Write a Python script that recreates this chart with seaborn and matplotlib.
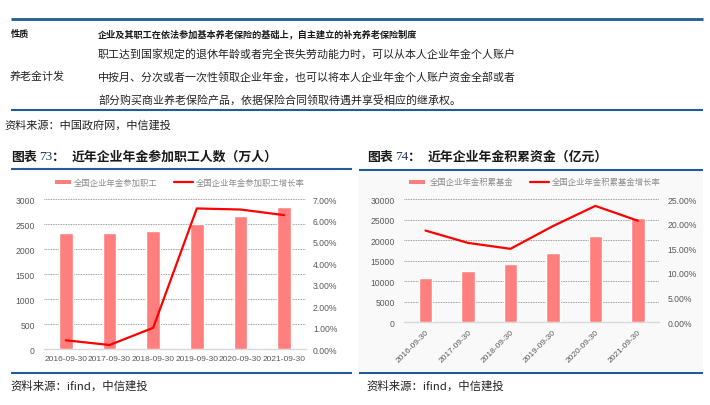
import matplotlib
matplotlib.use("Agg")
import matplotlib.pyplot as plt
import seaborn as sns
import numpy as np
import pandas as pd
from matplotlib.lines import Line2D
from matplotlib.patches import Rectangle
from matplotlib.ticker import FuncFormatter, MultipleLocator

# ---------------- data ----------------
dates = ["2016-09-30", "2017-09-30", "2018-09-30", "2019-09-30", "2020-09-30", "2021-09-30"]
workers = [2320, 2330, 2360, 2500, 2670, 2840]           # 万人
workers_growth = [0.42, 0.20, 1.00, 6.56, 6.51, 6.25]     # %
funds = [10750, 12400, 14200, 16900, 21000, 25400]        # 亿元
funds_growth = [18.6, 16.1, 14.9, 19.5, 23.6, 20.6]       # %

workers_bar_label = "全国企业年金参加职工"
workers_line_label = "全国企业年金参加职工增长率"
funds_bar_label = "全国企业年金积累基金"
funds_line_label = "全国企业年金积累基金增长率"

title73 = "近年企业年金参加职工人数（万人）"
title74 = "近年企业年金积累资金（亿元）"
row1_head = "性质"
row1_text = "企业及其职工在依法参加基本养老保险的基础上，自主建立的补充养老保险制度"
row2_head = "养老金计发"
row2_lines = ["职工达到国家规定的退休年龄或者完全丧失劳动能力时，可以从本人企业年金个人账户",
              "中按月、分次或者一次性领取企业年金，也可以将本人企业年金个人账户资金全部或者",
              "部分购买商业养老保险产品，依据保险合同领取待遇并享受相应的继承权。"]
source_top = "资料来源：中国政府网，中信建投"
source_chart = "资料来源：ifind，中信建投"

# ---------------- style ----------------
sns.set_theme(style="white")
plt.rcParams["font.family"] = ["Liberation Sans", "Noto Sans CJK SC", "DejaVu Sans"]
CJK = ["Noto Sans CJK SC", "DejaVu Sans"]

W, H = 710, 406
BAR = "#FF7F7F"
LINE = "#FF0000"
BLUE = "#1F5C99"
TICK = "#595959"
LEG = "#8C8C8C"

fig = plt.figure(figsize=(W / 100, H / 100), dpi=100)
fig.patch.set_facecolor("white")


def fx(x):
    return x / W


def fy(y):
    return 1 - y / H


def hline(x0, x1, y, lw=1.5, color=BLUE):
    fig.add_artist(Line2D([fx(x0), fx(x1)], [fy(y), fy(y)], transform=fig.transFigure,
                          color=color, lw=lw, solid_capstyle="butt"))


def txt(x, y, s, size, **kw):
    kw.setdefault("family", CJK)
    kw.setdefault("color", "#1a1a1a")
    fig.text(fx(x), fy(y), s, fontsize=size, va="center", ha=kw.pop("ha", "left"), **kw)


# ---------------- top table ----------------
hline(11, 703, 20, lw=2.0)
txt(11, 34, row1_head, 6.6, weight="bold")
txt(98, 34, row1_text, 6.6, weight="bold")
for i, line in enumerate(row2_lines):
    txt(98, 54 + i * 23, line, 7.9, color="#222222")
txt(10, 77, row2_head, 7.9, color="#222222")
hline(11, 703, 111, lw=1.5)
txt(4, 125, source_top, 8.0, color="#222222")

# chart 2 background
fig.add_artist(Rectangle((fx(358), fy(372)), fx(703) - fx(358), fy(171) - fy(372),
                         transform=fig.transFigure, facecolor="#f9f9f9", edgecolor="none", zorder=0))

# ---------------- titles & rules ----------------
for x0, num, title in [(11, "73", title73), (367, "74", title74)]:
    txt(x0, 157, "图表", 9.3, weight="bold")
    txt(x0 + 28, 157, num, 9.5, family=["Liberation Serif"], color="#1F3864")
    txt(x0 + 41, 157, "：", 9.3, weight="bold")
    txt(x0 + 61, 157, title, 9.3, weight="bold")
hline(11, 352, 169.5)
hline(359, 703, 170.5)
hline(11, 352, 374)
hline(359, 703, 374)
txt(10, 386, source_chart, 8.2, color="#222222")
txt(366, 386, source_chart, 8.2, color="#222222")


# ---------------- legends ----------------
def legend(xp, xt1, xl, xt2, lab1, lab2, y=183):
    fig.add_artist(Rectangle((fx(xp), fy(y + 1.6)), fx(16), 3.2 / H, transform=fig.transFigure,
                             facecolor=BAR, edgecolor="none"))
    txt(xt1, y, lab1, 6.0, color=LEG)
    fig.add_artist(Line2D([fx(xl), fx(xl + 19)], [fy(y), fy(y)], transform=fig.transFigure,
                          color=LINE, lw=1.6))
    txt(xt2, y, lab2, 6.0, color=LEG)


legend(55, 74, 174, 196, workers_bar_label, workers_line_label)
legend(409, 430, 530, 552, funds_bar_label, funds_line_label)


# ---------------- charts ----------------
def make_chart(rect, vals, growth, ymax, ystep, gmax, gstep, gfmt, lpad, rpad, rotate):
    ax = fig.add_axes(rect)
    ax.set_facecolor("none")
    df = pd.DataFrame({"date": dates, "val": vals})
    sns.barplot(data=df, x="date", y="val", ax=ax, color=BAR, saturation=1, width=0.32, zorder=3)
    ax2 = ax.twinx()
    ax2.set_facecolor("none")
    sns.lineplot(x=np.arange(len(dates)), y=growth, ax=ax2, color=LINE, lw=1.6, sort=False)
    ax.set_xlim(-0.5, len(dates) - 0.5)
    ax.set_ylim(0, ymax)
    ax2.set_ylim(0, gmax)
    ax.yaxis.set_major_locator(MultipleLocator(ystep))
    ax2.yaxis.set_major_locator(MultipleLocator(gstep))
    ax2.yaxis.set_major_formatter(FuncFormatter(lambda v, p: gfmt.format(v)))
    ax.set_xticks(range(len(dates)))
    if rotate:
        ax.set_xticklabels(dates, rotation=45, ha="right", va="top", rotation_mode="anchor")
    else:
        ax.set_xticklabels(dates)
    for a in (ax, ax2):
        a.set_xlabel("")
        a.set_ylabel("")
        for s in a.spines.values():
            s.set_visible(False)
    ax.spines["bottom"].set_visible(True)
    ax.spines["bottom"].set_color("#d9d9d9")
    ax.spines["bottom"].set_linewidth(1.0)
    ax.grid(axis="y", color="#7f7f7f", lw=0.6, ls=(0, (1, 1)), zorder=0)
    ax.set_axisbelow(True)
    ax.tick_params(axis="y", length=0, pad=lpad, labelsize=6.2, labelcolor=TICK)
    ax.tick_params(axis="x", length=0, pad=4, labelsize=6.0, labelcolor=TICK)
    ax2.tick_params(axis="y", length=0, pad=rpad, labelsize=6.2, labelcolor=TICK)
    ax2.grid(False)
    return ax, ax2


make_chart([fx(44), fy(350.3), fx(306) - fx(44), fy(200) - fy(350.3)],
           workers, workers_growth, 3000, 500, 7, 1, "{:.2f}%", 6.5, 5, False)
make_chart([fx(404.3), fy(323.3), fx(659) - fx(404.3), fy(200) - fy(323.3)],
           funds, funds_growth, 30000, 5000, 25, 5, "{:.2f}%", 7, 6, True)

fig.savefig("out.png", dpi=100)
